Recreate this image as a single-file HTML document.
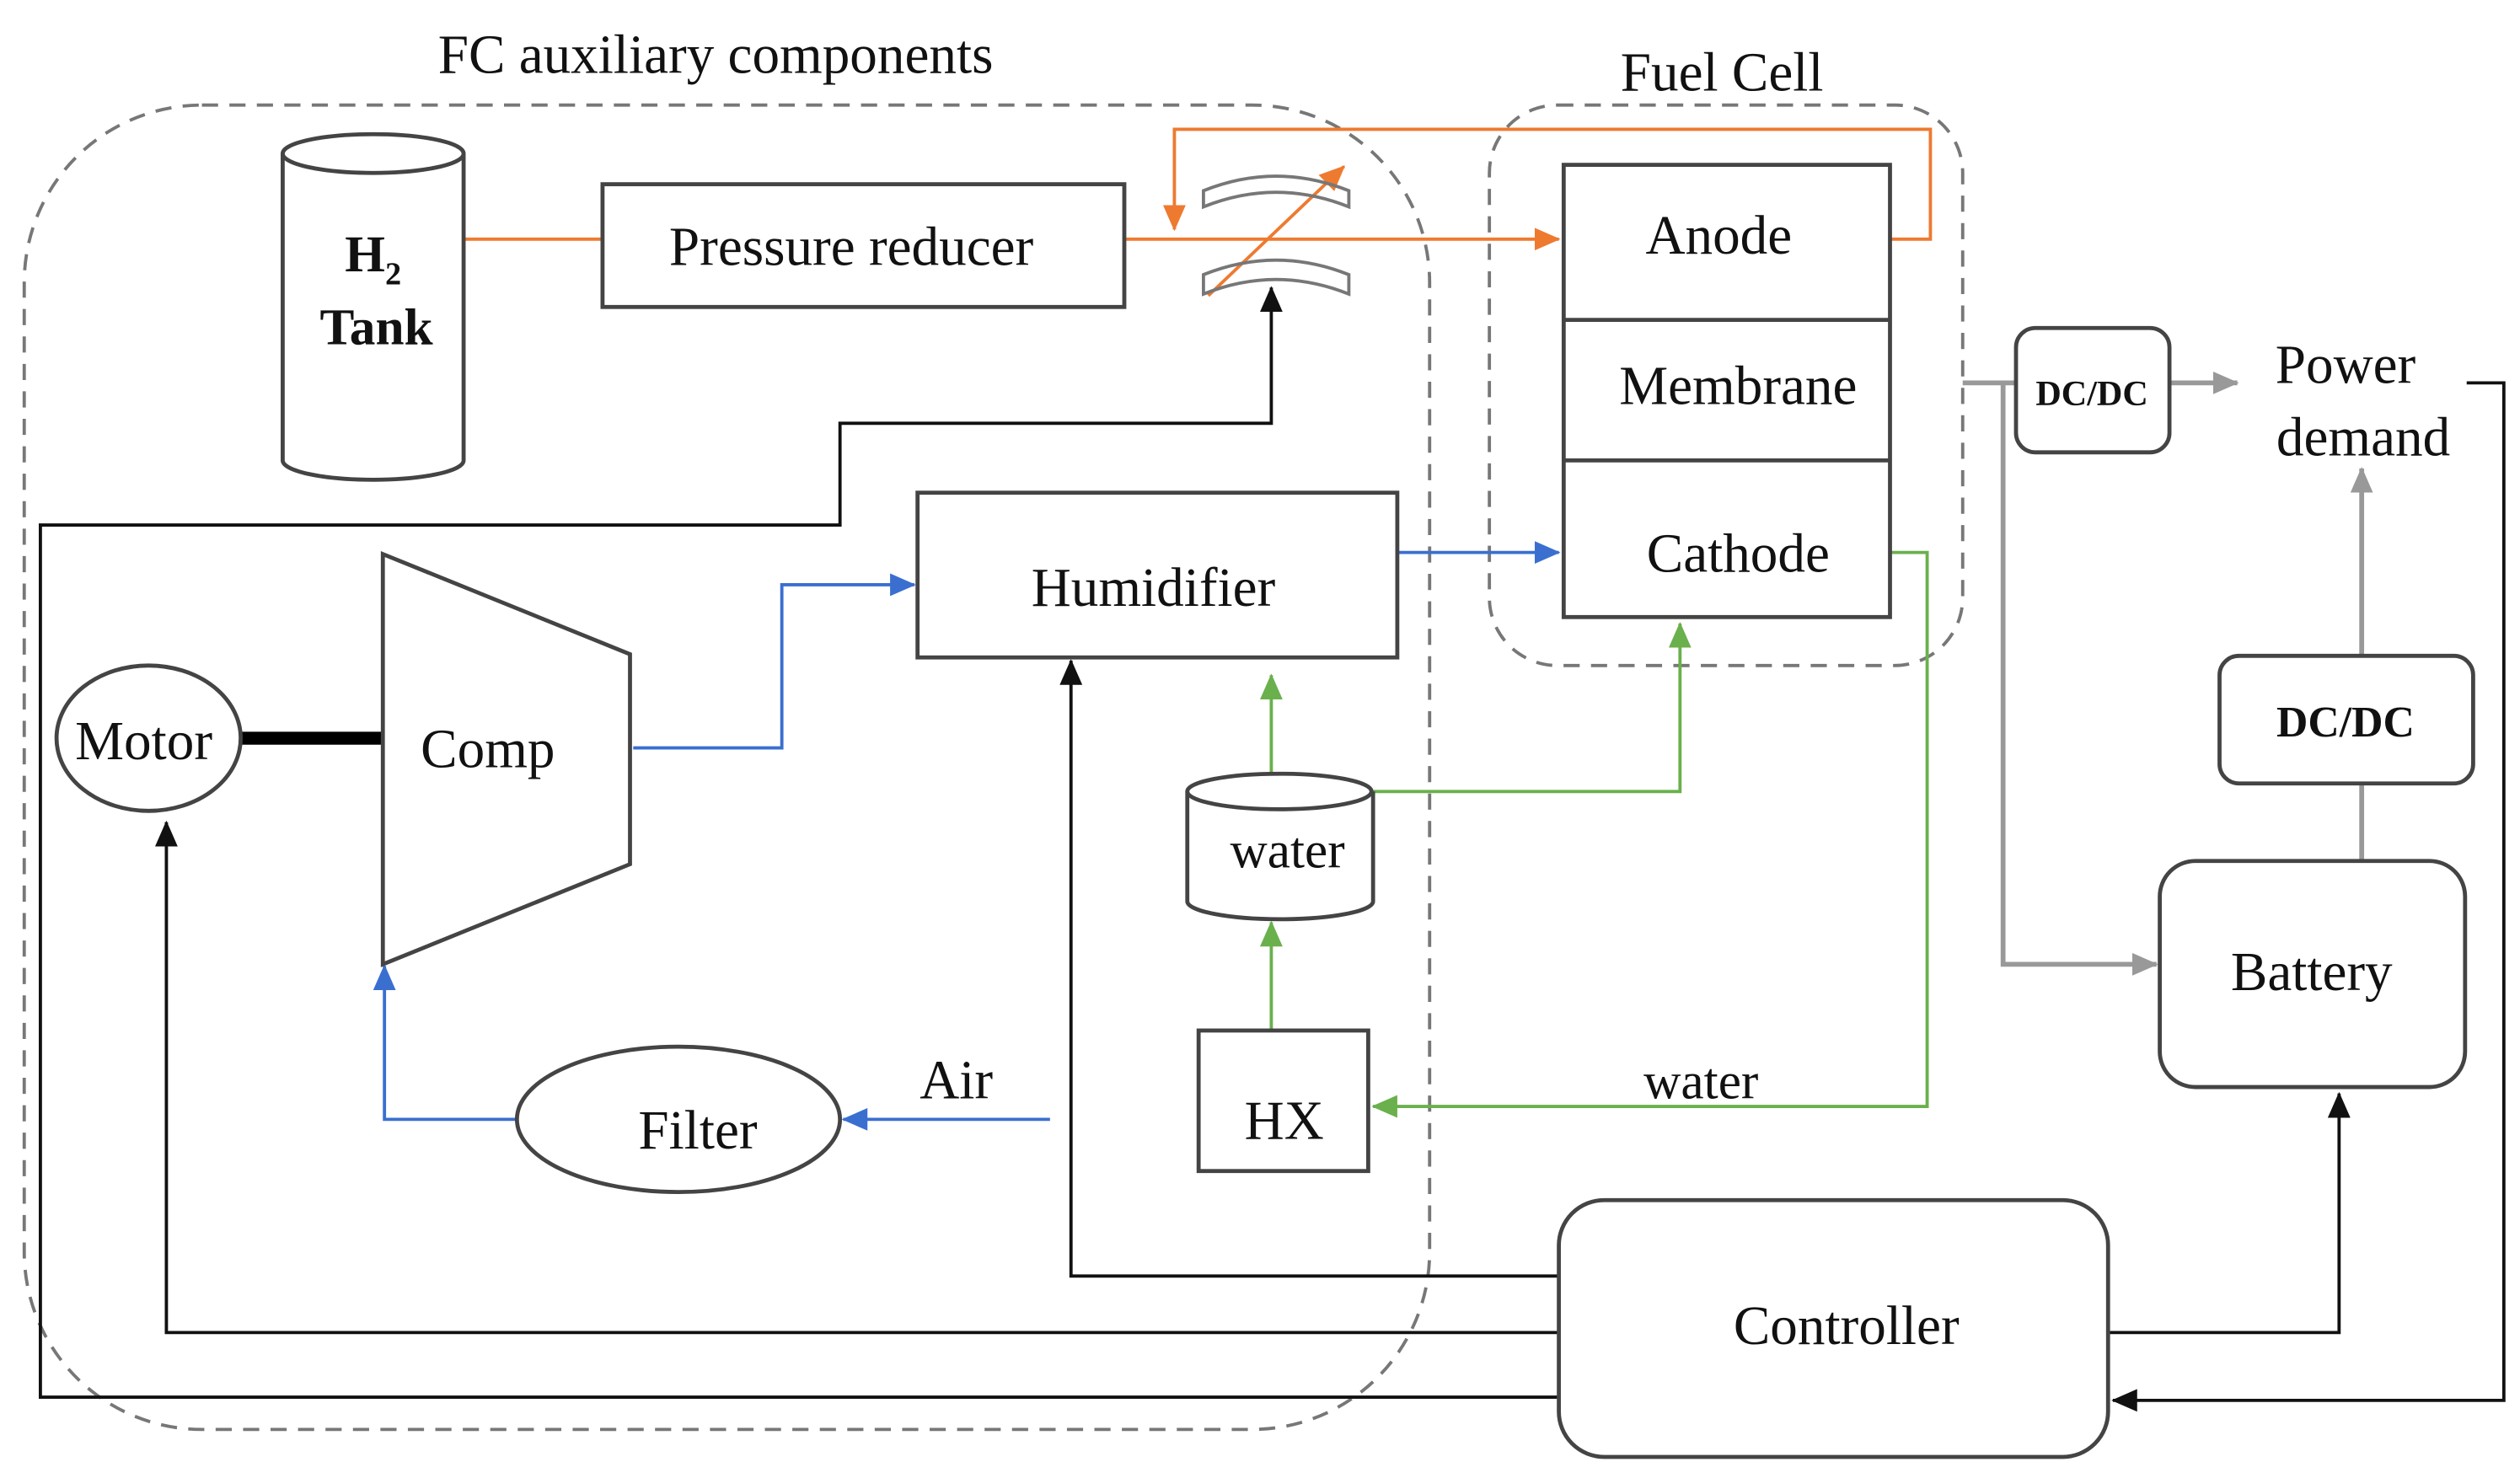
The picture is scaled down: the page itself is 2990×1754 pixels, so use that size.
<!DOCTYPE html>
<html><head><meta charset="utf-8"><style>
html,body{margin:0;padding:0;background:#fff;}
svg{display:block;}
text{font-family:"Liberation Serif",serif;fill:#111;}
</style></head><body>
<svg width="2990" height="1754" viewBox="0 0 1560 915" xmlns="http://www.w3.org/2000/svg">
<defs>
<marker id="ak" markerWidth="10" markerHeight="10" refX="9" refY="5" orient="auto" markerUnits="userSpaceOnUse"><path d="M0,0 L10,5 L0,10 Z" fill="#111"/></marker>
<marker id="ab" markerWidth="16" markerHeight="14" refX="15" refY="7" orient="auto" markerUnits="userSpaceOnUse"><path d="M0,0 L16,7 L0,14 Z" fill="#3a6fd0"/></marker>
<marker id="ao" markerWidth="16" markerHeight="14" refX="15" refY="7" orient="auto" markerUnits="userSpaceOnUse"><path d="M0,0 L16,7 L0,14 Z" fill="#ee7a30"/></marker>
<marker id="ag" markerWidth="16" markerHeight="14" refX="15" refY="7" orient="auto" markerUnits="userSpaceOnUse"><path d="M0,0 L16,7 L0,14 Z" fill="#6ab04c"/></marker>
<marker id="ay" markerWidth="16" markerHeight="14" refX="15" refY="7" orient="auto" markerUnits="userSpaceOnUse"><path d="M0,0 L16,7 L0,14 Z" fill="#999"/></marker>
<marker id="abk" markerWidth="16" markerHeight="14" refX="15" refY="7" orient="auto" markerUnits="userSpaceOnUse"><path d="M0,0 L16,7 L0,14 Z" fill="#111"/></marker>
</defs>
<!-- dashed groups -->
<rect x="15" y="65" width="870" height="820" rx="110" fill="none" stroke="#777" stroke-width="2" stroke-dasharray="10,7"/>
<rect x="922" y="65" width="293" height="347" rx="42" fill="none" stroke="#777" stroke-width="2" stroke-dasharray="10,7"/>
<text x="443" y="45" font-size="34" text-anchor="middle">FC auxiliary components</text>
<text x="1066" y="56" font-size="34" text-anchor="middle">Fuel Cell</text>
<!-- lines black -->
<g fill="none" stroke="#111" stroke-width="2">
<path d="M965,865 L25,865 L25,325 L520,325 L520,262 L787,262 L787,178" marker-end="url(#abk)"/>
<path d="M965,790 L663,790 L663,409" marker-end="url(#abk)"/>
<path d="M965,825 L103,825 L103,509" marker-end="url(#abk)"/>
<path d="M1305,825 L1448,825 L1448,677" marker-end="url(#abk)"/>
<path d="M1527,237 L1550,237 L1550,867 L1308,867" marker-end="url(#abk)"/>
</g>
<line x1="150" y1="457" x2="237" y2="457" stroke="#000" stroke-width="8"/>
<!-- orange -->
<g fill="none" stroke="#ee7a30" stroke-width="2">
<path d="M287,148 L373,148"/>
<path d="M696,148 L965,148" marker-end="url(#ao)"/>
<path d="M1170,148 L1195,148 L1195,80 L727,80 L727,142" marker-end="url(#ao)"/>
<path d="M748,183 L832,103" marker-end="url(#ao)"/>
</g>
<!-- valve -->
<g fill="none" stroke="#777" stroke-width="2">
<path d="M745,128 Q790,110 835,128 L835,118 Q790,100 745,118 Z"/>
<path d="M745,170 Q790,152 835,170 L835,182 Q790,164 745,182 Z"/>
</g>
<!-- blue -->
<g fill="none" stroke="#3a6fd0" stroke-width="2">
<path d="M865,342 L965,342" marker-end="url(#ab)"/>
<path d="M392,463 L484,463 L484,362 L566,362" marker-end="url(#ab)"/>
<path d="M650,693 L522,693" marker-end="url(#ab)"/>
<path d="M320,693 L238,693 L238,598" marker-end="url(#ab)"/>
</g>
<!-- green -->
<g fill="none" stroke="#6ab04c" stroke-width="2">
<path d="M1170,342 L1193,342 L1193,685 L850,685" marker-end="url(#ag)"/>
<path d="M787,638 L787,571" marker-end="url(#ag)"/>
<path d="M787,480 L787,418" marker-end="url(#ag)"/>
<path d="M850,490 L1040,490 L1040,386" marker-end="url(#ag)"/>
</g>
<!-- gray -->
<g fill="none" stroke="#999" stroke-width="3">
<path d="M1215,237 L1248,237"/>
<path d="M1343,237 L1385,237" marker-end="url(#ay)"/>
<path d="M1240,237 L1240,597 L1335,597" marker-end="url(#ay)"/>
<path d="M1462,533 L1462,485"/>
<path d="M1462,406 L1462,290" marker-end="url(#ay)"/>
</g>
<!-- shapes -->
<g fill="#fff" stroke="#444" stroke-width="2.5">
<path d="M175,95 L175,285 A56,12 0 0 0 287,285 L287,95"/>
<ellipse cx="231" cy="95" rx="56" ry="12"/>
<rect x="373" y="114" width="323" height="76"/>
<rect x="968" y="102" width="202" height="280"/>
<line x1="968" y1="198" x2="1170" y2="198"/>
<line x1="968" y1="285" x2="1170" y2="285"/>
<rect x="568" y="305" width="297" height="102"/>
<path d="M237,343 L390,405 L390,535 L237,597 Z"/>
<ellipse cx="92" cy="457" rx="57" ry="45"/>
<path d="M735,490 L735,558 A57,11 0 0 0 850,558 L850,490"/>
<ellipse cx="792" cy="490" rx="57" ry="11"/>
<rect x="742" y="638" width="105" height="87"/>
<ellipse cx="420" cy="693" rx="100" ry="45"/>
<rect x="1248" y="203" width="95" height="77" rx="12"/>
<rect x="1374" y="406" width="157" height="79" rx="12"/>
<rect x="1337" y="533" width="189" height="140" rx="22"/>
<rect x="965" y="743" width="340" height="159" rx="28"/>
</g>
<!-- labels -->
<text x="231" y="168" font-size="32" font-weight="bold" text-anchor="middle">H<tspan font-size="20" dy="8">2</tspan></text>
<text x="233" y="213" font-size="32" font-weight="bold" text-anchor="middle">Tank</text>
<text x="527" y="164" font-size="34" text-anchor="middle">Pressure reducer</text>
<text x="1064" y="157" font-size="34" text-anchor="middle">Anode</text>
<text x="1076" y="250" font-size="34" text-anchor="middle">Membrane</text>
<text x="1076" y="354" font-size="34" text-anchor="middle">Cathode</text>
<text x="714" y="375" font-size="34" text-anchor="middle">Humidifier</text>
<text x="302" y="475" font-size="34" text-anchor="middle">Comp</text>
<text x="89" y="470" font-size="34" text-anchor="middle">Motor</text>
<text x="797" y="537" font-size="32" text-anchor="middle">water</text>
<text x="795" y="705" font-size="34" text-anchor="middle">HX</text>
<text x="432" y="711" font-size="34" text-anchor="middle">Filter</text>
<text x="592" y="680" font-size="34" text-anchor="middle">Air</text>
<text x="1053" y="680" font-size="32" text-anchor="middle">water</text>
<text x="1295" y="251" font-size="22" font-weight="bold" text-anchor="middle">DC/DC</text>
<text x="1452" y="456" font-size="27" font-weight="bold" text-anchor="middle">DC/DC</text>
<text x="1452" y="237" font-size="34" text-anchor="middle">Power</text>
<text x="1463" y="282" font-size="34" text-anchor="middle">demand</text>
<text x="1431" y="613" font-size="34" text-anchor="middle">Battery</text>
<text x="1143" y="832" font-size="34" text-anchor="middle">Controller</text>
</svg>
</body></html>
